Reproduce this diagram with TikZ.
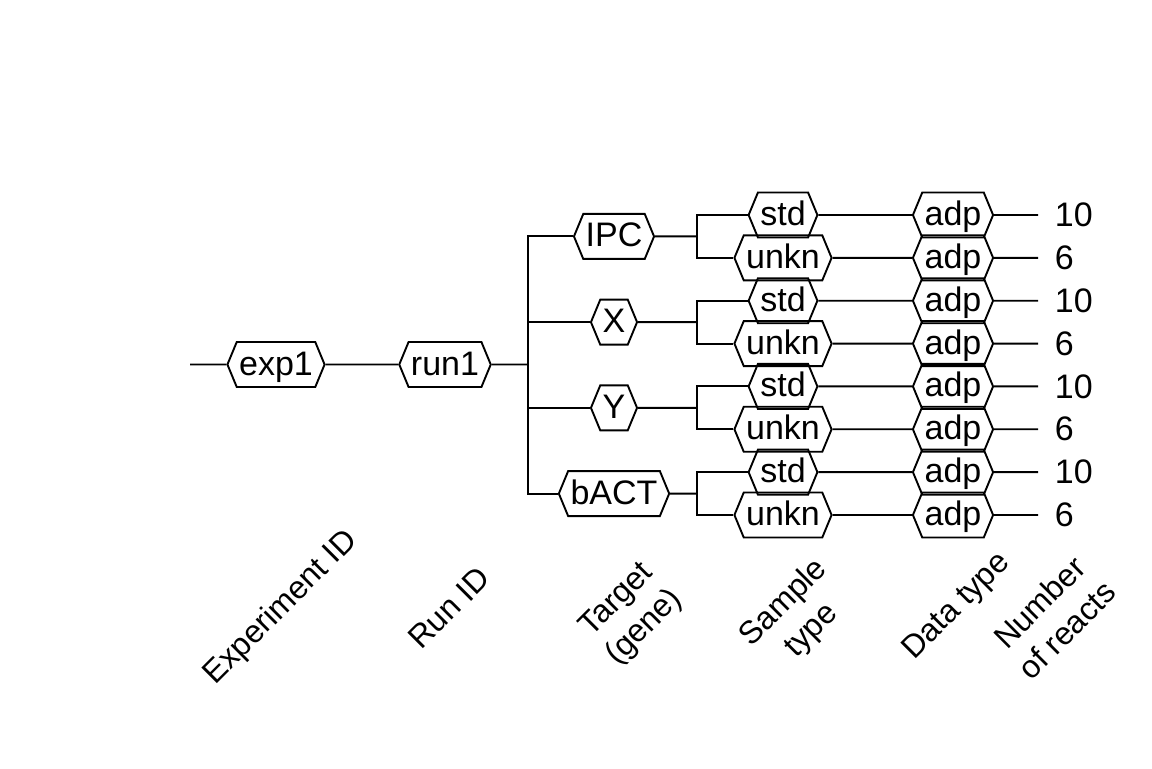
\documentclass[tikz,border=0pt]{standalone}
\usepackage{fontspec}
\setmainfont{Liberation Sans}
\usetikzlibrary{shapes.symbols}
\begin{document}
\begin{tikzpicture}[x=0.5bp,y=-0.5bp,line width=0.95bp,
  font=\fontsize{17bp}{20bp}\selectfont,
  hexa/.style={draw, signal, signal to=east and west, signal pointer angle=135,
    minimum height=22.5bp, inner xsep=1.2bp, text height=13bp, text depth=2.5bp},
  lab/.style={rotate=45, align=center, inner sep=0pt, font=\fontsize{16bp}{19.5bp}\selectfont},
  num/.style={anchor=west, inner xsep=8bp, inner ysep=0pt}]
\useasboundingbox (0,0) rectangle (1152,768);

\node[hexa] (exp1) at (276,364.5) {exp1};
\node[hexa] (run1) at (445,364.5) {run1};
\foreach \i/\lbl in {1/IPC,2/X,3/Y,4/bACT} {
  \pgfmathsetmacro\ty{215+42.857*(2*\i-1.5)}
  \node[hexa] (t\i) at (614,\ty) {\lbl};
}
\foreach \k/\smp/\nm in {1/std/10,2/unkn/6,3/std/10,4/unkn/6,5/std/10,6/unkn/6,7/std/10,8/unkn/6} {
  \pgfmathsetmacro\ry{215+42.857*(\k-1)}
  \node[hexa] (s\k) at (783,\ry) {\smp};
  \node[hexa] (d\k) at (953,\ry) {adp};
  \node[num] (n\k) at (1038,\ry) {\nm};
}

% connectors
\coordinate (start) at (190,364.5);
\coordinate (b0) at (528,364.5);
\draw (start) -- (exp1);
\draw (exp1) -- (run1);
\draw (run1) -- (b0);
\foreach \i in {1,2,3,4} {
  \draw (b0) |- (t\i.west);
  \pgfmathsetmacro\ty{215+42.857*(2*\i-1.5)}
  \coordinate (b\i) at (697,\ty);
  \draw (t\i) -- (b\i);
  \pgfmathtruncatemacro\ka{2*\i-1}
  \pgfmathtruncatemacro\kb{2*\i}
  \draw (b\i) |- (s\ka.west);
  \draw (b\i) |- (s\kb.west);
}
\foreach \k in {1,...,8} {
  \draw (s\k) -- (d\k);
  \draw (d\k) -- (n\k);
}

% column labels
\node[lab] (l1) at (281,608) {Experiment ID};
\node[lab] (l2) at (449,608) {Run ID};
\node[lab] (l3) at (631,614) {Target\\(gene)};
\node[lab] (l4) at (798,617) {Sample\\type};
\node[lab] (l5) at (957,607) {Data type};
\node[lab] (l6) at (1053,616) {Number\\of reacts};
\end{tikzpicture}
\end{document}
